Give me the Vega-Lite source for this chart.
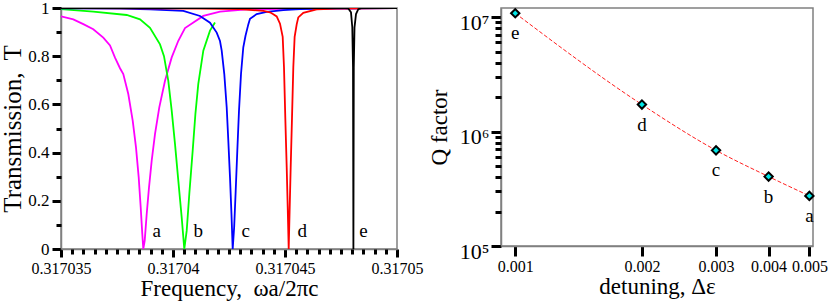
{
  "$schema": "https://vega.github.io/schema/vega-lite/v6.json",
  "background": "white",
  "padding": {"left": 0, "top": -2, "right": 0, "bottom": 0},
  "spacing": 104,
  "bounds": "flush",
  "config": {
    "font": "Liberation Serif",
    "view": {"stroke": "#808080", "strokeWidth": 1.5},
    "axis": {"grid": false, "domainColor": "#808080", "domainWidth": 1.5, "labelColor": "black", "titleColor": "black", "labelFont": "Liberation Serif", "titleFont": "Liberation Serif", "titleFontWeight": "normal"}
  },
  "hconcat": [
    {
      "width": 336,
      "height": 241,
      "resolve": {"axis": {"x": "independent", "y": "independent"}},
      "layer": [
        {
          "data": {"values": [
            {"c":"a","f":0.317035000,"T":0.965},
            {"c":"a","f":0.317035549,"T":0.953},
            {"c":"a","f":0.317035996,"T":0.933},
            {"c":"a","f":0.317036442,"T":0.912},
            {"c":"a","f":0.317036888,"T":0.877},
            {"c":"a","f":0.317037188,"T":0.845},
            {"c":"a","f":0.317037411,"T":0.794},
            {"c":"a","f":0.317037634,"T":0.75},
            {"c":"a","f":0.317037781,"T":0.726},
            {"c":"a","f":0.317038004,"T":0.643},
            {"c":"a","f":0.317038201,"T":0.533},
            {"c":"a","f":0.317038348,"T":0.422},
            {"c":"a","f":0.317038469,"T":0.297},
            {"c":"a","f":0.317038558,"T":0.173},
            {"c":"a","f":0.317038629,"T":0.062},
            {"c":"a","f":0.317038674,"T":0.0},
            {"c":"a","f":0.317038737,"T":0.035},
            {"c":"a","f":0.317038826,"T":0.145},
            {"c":"a","f":0.317038929,"T":0.256},
            {"c":"a","f":0.317039049,"T":0.367},
            {"c":"a","f":0.317039196,"T":0.477},
            {"c":"a","f":0.317039388,"T":0.588},
            {"c":"a","f":0.317039643,"T":0.698},
            {"c":"a","f":0.317039942,"T":0.795},
            {"c":"a","f":0.317040237,"T":0.864},
            {"c":"a","f":0.317040536,"T":0.917},
            {"c":"a","f":0.317041353,"T":0.967},
            {"c":"a","f":0.317042098,"T":0.985},
            {"c":"a","f":0.317043290,"T":0.994},
            {"c":"a","f":0.317045670,"T":0.998},
            {"c":"a","f":0.317047902,"T":0.999},
            {"c":"a","f":0.317050000,"T":1.0},
            {"c":"b","f":0.317035000,"T":0.995},
            {"c":"b","f":0.317036442,"T":0.985},
            {"c":"b","f":0.317037933,"T":0.971},
            {"c":"b","f":0.317038527,"T":0.953},
            {"c":"b","f":0.317038973,"T":0.918},
            {"c":"b","f":0.317039420,"T":0.849},
            {"c":"b","f":0.317039598,"T":0.80},
            {"c":"b","f":0.317039790,"T":0.698},
            {"c":"b","f":0.317039942,"T":0.574},
            {"c":"b","f":0.317040089,"T":0.436},
            {"c":"b","f":0.317040237,"T":0.284},
            {"c":"b","f":0.317040388,"T":0.131},
            {"c":"b","f":0.317040504,"T":0.0},
            {"c":"b","f":0.317040612,"T":0.076},
            {"c":"b","f":0.317040728,"T":0.228},
            {"c":"b","f":0.317040879,"T":0.408},
            {"c":"b","f":0.317041000,"T":0.56},
            {"c":"b","f":0.317041129,"T":0.685},
            {"c":"b","f":0.317041353,"T":0.823},
            {"c":"b","f":0.317041652,"T":0.906},
            {"c":"b","f":0.317041875,"T":0.94},
            {"c":"c","f":0.317035000,"T":0.999},
            {"c":"c","f":0.317037634,"T":0.997},
            {"c":"c","f":0.317038973,"T":0.994},
            {"c":"c","f":0.317040460,"T":0.988},
            {"c":"c","f":0.317041205,"T":0.967},
            {"c":"c","f":0.317041652,"T":0.939},
            {"c":"c","f":0.317041951,"T":0.898},
            {"c":"c","f":0.317042098,"T":0.863},
            {"c":"c","f":0.317042174,"T":0.823},
            {"c":"c","f":0.317042290,"T":0.726},
            {"c":"c","f":0.317042397,"T":0.588},
            {"c":"c","f":0.317042469,"T":0.45},
            {"c":"c","f":0.317042545,"T":0.297},
            {"c":"c","f":0.317042610,"T":0.145},
            {"c":"c","f":0.317042665,"T":0.0},
            {"c":"c","f":0.317042730,"T":0.09},
            {"c":"c","f":0.317042799,"T":0.242},
            {"c":"c","f":0.317042871,"T":0.408},
            {"c":"c","f":0.317042946,"T":0.574},
            {"c":"c","f":0.317043036,"T":0.726},
            {"c":"c","f":0.317043138,"T":0.837},
            {"c":"c","f":0.317043237,"T":0.885},
            {"c":"c","f":0.317043362,"T":0.932},
            {"c":"c","f":0.317043438,"T":0.955},
            {"c":"c","f":0.317043737,"T":0.975},
            {"c":"c","f":0.317044183,"T":0.984},
            {"c":"c","f":0.317044924,"T":0.991},
            {"c":"c","f":0.317045670,"T":0.995},
            {"c":"c","f":0.317047009,"T":0.998},
            {"c":"c","f":0.317050000,"T":1.0},
            {"c":"d","f":0.317035000,"T":1.0},
            {"c":"d","f":0.317041205,"T":0.998},
            {"c":"d","f":0.317042991,"T":0.995},
            {"c":"d","f":0.317044031,"T":0.988},
            {"c":"d","f":0.317044330,"T":0.982},
            {"c":"d","f":0.317044478,"T":0.974},
            {"c":"d","f":0.317044629,"T":0.965},
            {"c":"d","f":0.317044777,"T":0.935},
            {"c":"d","f":0.317044897,"T":0.88},
            {"c":"d","f":0.317044955,"T":0.754},
            {"c":"d","f":0.317045013,"T":0.546},
            {"c":"d","f":0.317045076,"T":0.339},
            {"c":"d","f":0.317045121,"T":0.173},
            {"c":"d","f":0.317045165,"T":0.0},
            {"c":"d","f":0.317045210,"T":0.173},
            {"c":"d","f":0.317045254,"T":0.339},
            {"c":"d","f":0.317045313,"T":0.546},
            {"c":"d","f":0.317045371,"T":0.754},
            {"c":"d","f":0.317045430,"T":0.88},
            {"c":"d","f":0.317045522,"T":0.932},
            {"c":"d","f":0.317045594,"T":0.961},
            {"c":"d","f":0.317045817,"T":0.98},
            {"c":"d","f":0.317046415,"T":0.994},
            {"c":"d","f":0.317047308,"T":0.997},
            {"c":"d","f":0.317050000,"T":1.0},
            {"c":"e","f":0.317035000,"T":1.0},
            {"c":"e","f":0.317047679,"T":1.0},
            {"c":"e","f":0.317047826,"T":0.998},
            {"c":"e","f":0.317047946,"T":0.982},
            {"c":"e","f":0.317048004,"T":0.92},
            {"c":"e","f":0.317048036,"T":0.754},
            {"c":"e","f":0.317048054,"T":0.0},
            {"c":"e","f":0.317048071,"T":0.754},
            {"c":"e","f":0.317048103,"T":0.92},
            {"c":"e","f":0.317048170,"T":0.975},
            {"c":"e","f":0.317048272,"T":0.995},
            {"c":"e","f":0.317048438,"T":1.0},
            {"c":"e","f":0.317050000,"T":1.0}
          ]},
          "mark": {"type": "line", "strokeWidth": 1.8, "clip": true},
          "encoding": {
            "x": {"field": "f", "type": "quantitative",
              "scale": {"domain": [0.317035, 0.31705], "nice": false, "zero": false},
              "axis": {"orient": "bottom", "title": "Frequency,\u00a0 ωa/2πc",
                "values": [0.317035, 0.31704, 0.317045, 0.31705],
                "format": ".6~f", "ticks": true, "tickSize": 8, "tickColor": "#000000", "tickWidth": 3, "tickOpacity": 1,
                "labelFontSize": 16, "titleFontSize": 23, "labelPadding": 3, "titlePadding": 1, "labelFlush": false, "labelOverlap": false}},
            "y": {"field": "T", "type": "quantitative",
              "scale": {"domain": [0, 1], "nice": false},
              "axis": {"orient": "left", "title": "Transmission,\u00a0 T",
                "values": [0, 0.2, 0.4, 0.6, 0.8, 1],
                "format": "~g", "ticks": true, "tickSize": 9, "tickColor": "#000000", "tickWidth": 3, "tickOpacity": 1,
                "labelFontSize": 17, "titleFontSize": 25, "labelPadding": 3, "titlePadding": 2, "labelOverlap": false, "labelFlush": false}},
            "color": {"field": "c", "type": "nominal",
              "scale": {"domain": ["a","b","c","d","e"], "range": ["#ff00ff","#00ff00","#0000ff","#ff0000","#000000"]},
              "legend": null}
          }
        },
        {
          "data": {"values": [
            {"l":"a","f":0.31703927,"T":0.05},
            {"l":"b","f":0.31704113,"T":0.05},
            {"l":"c","f":0.317043245,"T":0.05},
            {"l":"d","f":0.31704577,"T":0.05},
            {"l":"e","f":0.3170485,"T":0.05}
          ]},
          "mark": {"type": "text", "fontSize": 19, "baseline": "alphabetic", "align": "center"},
          "encoding": {
            "x": {"field": "f", "type": "quantitative",
              "axis": {"orient": "bottom", "title": null, "labels": false, "domain": false, "ticks": true, "tickSize": 5, "tickColor": "#000000", "tickWidth": 3, "tickOpacity": 1,
                "values": [0.3170355,0.317036,0.3170365,0.317037,0.3170375,0.317038,0.3170385,0.317039,0.3170395,0.3170405,0.317041,0.3170415,0.317042,0.3170425,0.317043,0.3170435,0.317044,0.3170445,0.3170455,0.317046,0.3170465,0.317047,0.3170475,0.317048,0.3170485,0.317049,0.3170495]}},
            "y": {"field": "T", "type": "quantitative",
              "axis": {"orient": "left", "title": null, "labels": false, "domain": false, "ticks": true, "tickSize": 5, "tickColor": "#000000", "tickWidth": 3, "tickOpacity": 1,
                "values": [0.1, 0.3, 0.5, 0.7, 0.9]}},
            "text": {"field": "l"}
          }
        }
      ]
    },
    {
      "width": 312,
      "height": 238,
      "data": {"values": [
        {"l":"e","d":0.001,"Q":10800000},
        {"l":"d","d":0.002,"Q":1720000},
        {"l":"c","d":0.003,"Q":685000},
        {"l":"b","d":0.004,"Q":404000},
        {"l":"a","d":0.005,"Q":274000}
      ]},
      "resolve": {"axis": {"x": "independent", "y": "independent"}},
      "layer": [
        {
          "mark": {"type": "line", "color": "#ff2020", "strokeWidth": 1, "strokeDash": [4, 2], "interpolate": "monotone"},
          "encoding": {
            "x": {"field": "d", "type": "quantitative",
              "scale": {"type": "log", "domain": [0.000925, 0.0051], "nice": false},
              "axis": {"orient": "bottom", "title": "detuning, Δε", "values": [0.001,0.002,0.003,0.004,0.005], "format": ".3f", "ticks": true, "tickSize": 10, "tickColor": "#000000", "tickWidth": 3, "tickOpacity": 1, "labelFontSize": 16, "titleFontSize": 23, "labelPadding": 2, "titlePadding": 1, "labelFlush": false, "labelOverlap": false}},
            "y": {"field": "Q", "type": "quantitative",
              "scale": {"type": "log", "domain": [100000, 12000000], "nice": false},
              "axis": {"orient": "left", "title": "Q factor",
                "values": [100000, 1000000, 10000000],
                "labelExpr": "datum.value == 100000 ? '10⁵' : datum.value == 1000000 ? '10⁶' : '10⁷'",
                "ticks": true, "tickSize": 10, "tickColor": "#000000", "tickWidth": 3, "tickOpacity": 1,
                "labelFontSize": 22, "labelPadding": 2, "labelOffset": 5, "titleFontSize": 23, "titlePadding": 8, "labelOverlap": false, "labelFlush": false}}
          }
        },
        {
          "mark": {"type": "point", "shape": "diamond", "filled": true, "fill": "#00e5e5", "stroke": "black", "strokeWidth": 2, "size": 70, "opacity": 1},
          "encoding": {
            "x": {"field": "d", "type": "quantitative", "axis": null},
            "y": {"field": "Q", "type": "quantitative",
              "axis": {"orient": "left", "title": null, "labels": false, "domain": false, "ticks": true, "tickSize": 6, "tickColor": "#000000", "tickWidth": 3, "tickOpacity": 1,
                "values": [200000,300000,400000,500000,600000,700000,800000,900000,2000000,3000000,4000000,5000000,6000000,7000000,8000000,9000000]}}
          }
        },
        {
          "mark": {"type": "text", "dy": 20, "fontSize": 19, "baseline": "middle"},
          "encoding": {
            "x": {"field": "d", "type": "quantitative", "axis": null},
            "y": {"field": "Q", "type": "quantitative", "axis": null},
            "text": {"field": "l"}
          }
        }
      ]
    }
  ]
}
